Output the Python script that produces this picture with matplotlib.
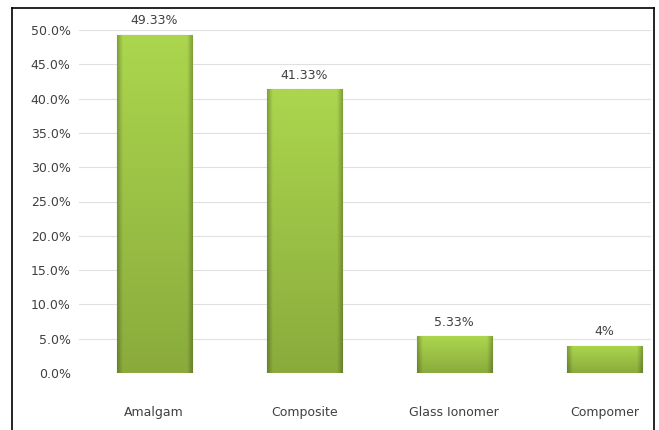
import matplotlib.pyplot as plt
import numpy as np
from matplotlib.lines import Line2D
from matplotlib.colors import to_rgb

# Data
materials = ['Amalgam', 'Composite', 'Glass Ionomer', 'Compomer']
percent = [49.33, 41.33, 5.33, 4.0]
value_labels = ['49.33%', '41.33%', '5.33%', '4%']
y_ticks = [0, 5, 10, 15, 20, 25, 30, 35, 40, 45, 50]

W, H = 659, 430
fig = plt.figure(figsize=(W / 100, H / 100), dpi=100)
fig.patch.set_facecolor('white')

# plot area in pixel terms, converted to figure fractions
left, right, top, bottom = 79, 651, 30, 373
ax = fig.add_axes([left / W, 1 - bottom / H, (right - left) / W, (bottom - top) / H])

x = np.arange(len(materials))
bars = ax.bar(x, percent, width=0.5, color='#9bc24e', edgecolor='#6a8a2a',
              linewidth=0.8, zorder=2)

# shading: bright yellow-green at the top, olive at the bottom,
# darker only at the very sides
top_c = np.array(to_rgb('#acd64e'))
bot_c = np.array(to_rgb('#8aab3c'))
ny, nx = 200, 100
t = np.linspace(0, 1, ny)[:, None, None]          # 0 at bottom row, 1 at top
base = bot_c + (top_c - bot_c) * t
u = np.linspace(-1, 1, nx)[None, :, None]
side = 1 - 0.25 * np.clip((np.abs(u) - 0.85) / 0.15, 0, 1)
img = np.clip(base * side, 0, 1)

for b in bars:
    x0, y0 = b.get_x(), b.get_y()
    w, h = b.get_width(), b.get_height()
    im = ax.imshow(img, origin='lower', aspect='auto',
                   extent=[x0, x0 + w, y0, y0 + h], zorder=2.5)
    im.set_clip_path(b)

for xi, v, lab in zip(x, percent, value_labels):
    ax.text(xi, v + 1.1, lab, ha='center', va='bottom', fontsize=9,
            color='#404040')

ax.set_xlim(-0.5, 3.31)
ax.set_ylim(0, 50)
ax.set_yticks(y_ticks)
ax.set_yticklabels([f'{t:.1f}%' for t in y_ticks], fontsize=9, color='#404040')
ax.set_xticks(x)
ax.set_xticklabels(materials, fontsize=9, color='#404040')
ax.tick_params(axis='both', length=0)
ax.tick_params(axis='x', pad=24)
ax.tick_params(axis='y', pad=6)
ax.grid(axis='y', color='#e0e0e0', linewidth=0.8, zorder=0)
ax.set_axisbelow(True)
for s in ax.spines.values():
    s.set_visible(False)

# outer frame: left, top and right edges
fx = lambda px: px / W
fy = lambda py: 1 - py / H
fig.add_artist(Line2D([fx(12), fx(12)], [fy(8), 0], color='black', lw=1.2))
fig.add_artist(Line2D([fx(12), fx(654)], [fy(8), fy(8)], color='black', lw=1.2))
fig.add_artist(Line2D([fx(654), fx(654)], [fy(8), 0], color='black', lw=1.2))

fig.savefig('out.png', dpi=100)
